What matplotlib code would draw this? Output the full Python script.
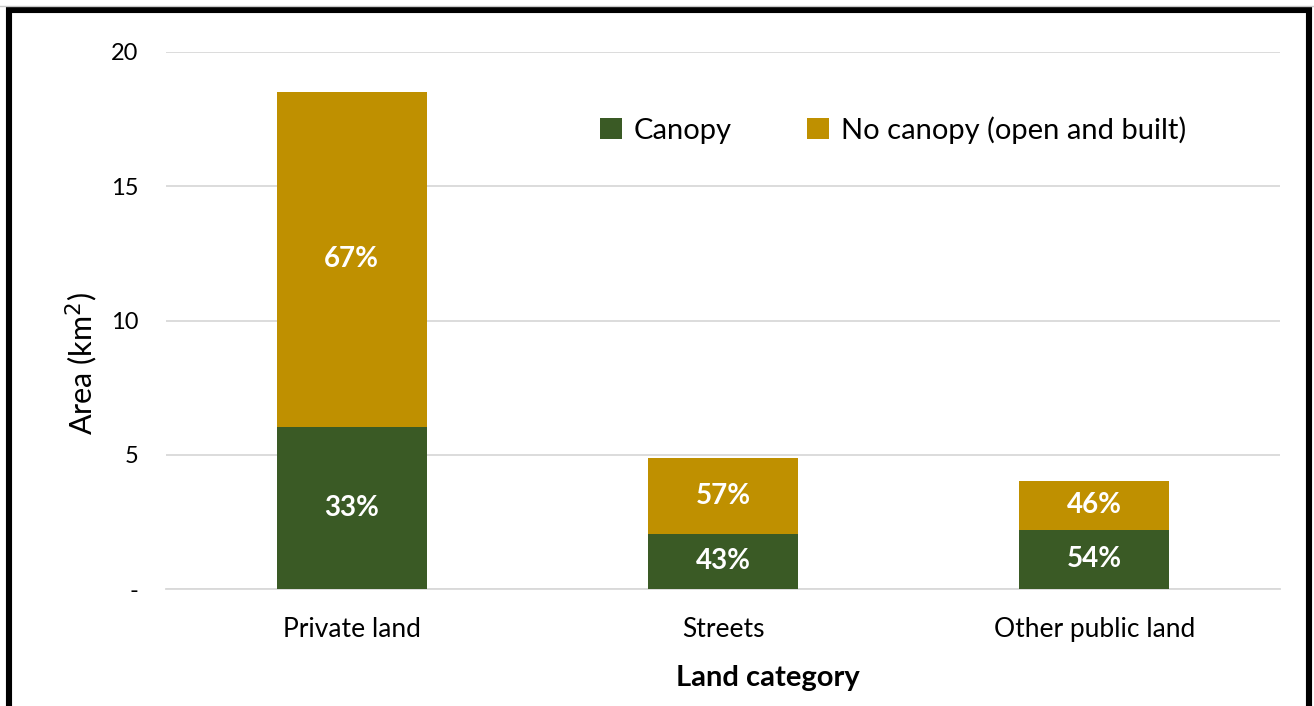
import numpy as np
import matplotlib.pyplot as plt
from matplotlib.patches import Rectangle
from matplotlib.lines import Line2D

# land area by category (km2)
categories = ["Private land", "Streets", "Other public land"]
canopy = [6.05, 2.05, 2.2]
no_canopy = [12.45, 2.83, 1.83]
canopy_pct = ["33%", "43%", "54%"]
no_canopy_pct = ["67%", "57%", "46%"]

green = "#3A5A25"
gold = "#BF9000"

plt.rcParams['font.family'] = ['Lato', 'DejaVu Sans']

fig = plt.figure(figsize=(13.14, 7.06), dpi=100)
ax = fig.add_axes([166 / 1314, 1 - 589 / 706, (1280 - 166) / 1314, (589 - 52) / 706])

x = np.arange(len(categories))
w = 0.404
b1 = ax.bar(x, canopy, w, color=green, label="Canopy", zorder=3)
b2 = ax.bar(x, no_canopy, w, bottom=canopy, color=gold,
            label="No canopy (open and built)", zorder=3)

# percentage labels centred in each segment
for i in range(len(categories)):
    ax.text(x[i], canopy[i] / 2, canopy_pct[i], ha="center", va="center",
            color="white", fontsize=20, fontweight="bold", zorder=4)
    ax.text(x[i], canopy[i] + no_canopy[i] / 2, no_canopy_pct[i], ha="center",
            va="center", color="white", fontsize=20, fontweight="bold", zorder=4)

ax.set_xlim(-0.5, 2.5)
ax.set_ylim(0, 20)
ax.set_yticks([0, 5, 10, 15, 20])
ax.set_yticklabels(["-", "5", "10", "15", "20"])
ax.set_xticks(x)
ax.set_xticklabels(categories)
ax.yaxis.grid(True, color="#D9D9D9", linewidth=1.3, zorder=0)
ax.set_axisbelow(True)
for s in ax.spines.values():
    s.set_visible(False)
ax.spines["bottom"].set_visible(True)
ax.spines["bottom"].set_color("#D9D9D9")
ax.spines["bottom"].set_linewidth(1.3)
ax.tick_params(axis="both", length=0)
ax.tick_params(axis="y", pad=20, labelsize=17)
ax.tick_params(axis="x", pad=20, labelsize=19)

fig.text(82 / 1314, 1 - 363 / 706, "Area (km$^2$)", rotation=90, ha="center",
         va="center", fontsize=22)
fig.text(768 / 1314, 1 - 678 / 706, "Land category", ha="center", va="center",
         fontsize=21, fontweight="bold")

ax.legend(loc="center", bbox_to_anchor=((893 - 166) / 1114, (589 - 130) / 537),
          ncol=2, frameon=False, fontsize=21, handlelength=0.75, handleheight=0.75,
          handletextpad=0.4, columnspacing=2.6)

# black frame around the chart
fig.patches.append(Rectangle((9 / 1314, -0.02), 1300 / 1314, 1 - 10 / 706 + 0.02,
                             transform=fig.transFigure, fill=False,
                             edgecolor="black", linewidth=4.4))
fig.lines.append(Line2D([0, 1], [1 - 6 / 706] * 2, transform=fig.transFigure,
                        color="#C8C8C8", linewidth=1))

fig.savefig("out.png", dpi=100)
